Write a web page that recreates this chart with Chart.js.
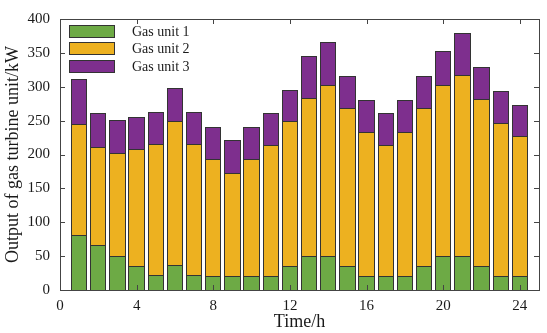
<!DOCTYPE html>
<html>
<head>
<meta charset="utf-8">
<script src="https://cdn.jsdelivr.net/npm/chart.js@4/dist/chart.umd.min.js"></script>
<style>
    html, body { margin: 0; padding: 0; background: #fff; }
    #wrap { width: 547px; height: 333px; }
</style>
</head>
<body>
<div id="wrap"><canvas id="gas-chart" width="547" height="333"></canvas></div>
<script>
// 時刻 (h)
var hours = [1, 2, 3, 4, 5, 6, 7, 8, 9, 10, 11, 12, 13, 14, 15, 16, 17, 18, 19, 20, 21, 22, 23, 24];

// 各ガスタービンの出力 (kW)
var unit1 = [80, 65, 50, 35, 22, 36, 22, 20, 20, 20, 20, 35, 50, 50, 35, 20, 20, 20, 35, 50, 50, 35, 20, 20];
var unit2 = [165, 145, 152, 173, 193, 213, 193, 173, 152, 173, 193, 213, 233, 252, 233, 212, 193, 212, 233, 252, 266, 246, 226, 206];
var unit3 = [65, 50, 48, 47, 47, 48, 47, 47, 48, 47, 47, 47, 62, 63, 47, 48, 47, 48, 47, 50, 62, 47, 47, 47];

var seriesNames = ['Gas unit 1', 'Gas unit 2', 'Gas unit 3'];

// 目盛
var xTicks = [0, 4, 8, 12, 16, 20, 24];
var yTicks = [0, 50, 100, 150, 200, 250, 300, 350, 400];

var Color = {
    bg: ['#6DAA45', '#EDB120', '#7E2F8E'],
    edge: '#333333',
    axis: '#444444',
    text: '#1a1a1a'
};
var fontFamily = '"Liberation Serif", "Times New Roman", serif';

// 棒の輪郭（境界を含むピクセル行・列に細線を引く）
var outlinePlugin = {
    id: 'barOutline',
    afterDatasetsDraw: function(chart) {
        var ctx = chart.ctx;
        ctx.save();
        ctx.strokeStyle = Color.edge;
        ctx.lineWidth = 1;
        chart.data.datasets.forEach(function(ds, di) {
            chart.getDatasetMeta(di).data.forEach(function(bar) {
                var p = bar.getProps(['x', 'y', 'base', 'width'], true);
                var l = Math.floor(p.x - p.width / 2);
                var r = Math.floor(p.x + p.width / 2);
                var t = Math.floor(Math.min(p.y, p.base));
                var b = Math.floor(Math.max(p.y, p.base));
                ctx.strokeRect(l + 0.5, t + 0.5, r - l, b - t);
            });
        });
        ctx.restore();
    }
};

// 枠線と内向きの目盛線
var framePlugin = {
    id: 'frame',
    afterDraw: function(chart) {
        var ctx = chart.ctx;
        var a = chart.chartArea;
        var xs = chart.scales.x;
        var ys = chart.scales.y;
        var len = 5;
        ctx.save();
        ctx.strokeStyle = Color.axis;
        ctx.lineWidth = 1;
        ctx.beginPath();
        xTicks.forEach(function(v) {
            var px = Math.round(xs.getPixelForValue(v)) + 0.5;
            ctx.moveTo(px, a.bottom);
            ctx.lineTo(px, a.bottom - len);
            ctx.moveTo(px, a.top);
            ctx.lineTo(px, a.top + len);
        });
        yTicks.forEach(function(v) {
            var py = Math.round(ys.getPixelForValue(v)) + 0.5;
            ctx.moveTo(a.left, py);
            ctx.lineTo(a.left + len, py);
            ctx.moveTo(a.right, py);
            ctx.lineTo(a.right - len, py);
        });
        ctx.stroke();
        ctx.strokeRect(Math.round(a.left) + 0.5, Math.round(a.top) + 0.5,
            Math.round(a.right - a.left), Math.round(a.bottom - a.top));
        ctx.restore();
    }
};

// 凡例（左上）
var legendPlugin = {
    id: 'boxLegend',
    afterDraw: function(chart) {
        var ctx = chart.ctx;
        var a = chart.chartArea;
        var x0 = a.left + 9;
        var y0 = a.top + 6;
        var step = 17.3;
        ctx.save();
        ctx.font = '14px ' + fontFamily;
        ctx.textBaseline = 'middle';
        chart.data.datasets.forEach(function(ds, i) {
            var y = Math.round(y0 + i * step);
            ctx.fillStyle = ds.backgroundColor;
            ctx.fillRect(x0, y, 46, 13);
            ctx.strokeStyle = Color.edge;
            ctx.lineWidth = 1;
            ctx.strokeRect(x0 + 0.5, y + 0.5, 45, 12);
            ctx.fillStyle = Color.text;
            ctx.fillText(ds.label, x0 + 63, y + 7);
        });
        ctx.restore();
    }
};

var dataSet = [unit1, unit2, unit3].map(function(values, i) {
    return {
        label: seriesNames[i],
        data: values,
        backgroundColor: Color.bg[i],
        borderWidth: 0,
        inflateAmount: 0,
        barPercentage: 0.8,
        categoryPercentage: 1.0
    };
});

new Chart(document.getElementById('gas-chart').getContext('2d'), {
    type: 'bar',
    data: {
        labels: hours,
        datasets: dataSet
    },
    options: {
        responsive: false,
        animation: false,
        layout: { padding: { top: 7, right: 8, left: 0, bottom: 0 } },
        plugins: {
            legend: { display: false },
            tooltip: { enabled: false }
        },
        scales: {
            x: {
                type: 'linear',
                min: 0,
                max: 25,
                stacked: true,
                offset: false,
                grid: { display: false, drawTicks: false },
                border: { display: false },
                afterBuildTicks: function(scale) {
                    scale.ticks = xTicks.map(function(v) { return { value: v }; });
                },
                ticks: {
                    padding: 7,
                    color: Color.text,
                    font: { family: fontFamily, size: 15 }
                },
                title: {
                    display: true,
                    text: 'Time/h',
                    color: Color.text,
                    padding: { top: 0, bottom: 0 },
                    font: { family: fontFamily, size: 18 }
                },
                afterFit: function(scale) { scale.height = 43; }
            },
            y: {
                min: 0,
                max: 400,
                stacked: true,
                grid: { display: false, drawTicks: false },
                border: { display: false },
                afterBuildTicks: function(scale) {
                    scale.ticks = yTicks.map(function(v) { return { value: v }; });
                },
                ticks: {
                    padding: 10,
                    color: Color.text,
                    font: { family: fontFamily, size: 15 }
                },
                title: {
                    display: true,
                    text: 'Output of gas turbine unit/kW',
                    color: Color.text,
                    padding: { top: 2, bottom: 0 },
                    font: { family: fontFamily, size: 18 }
                },
                afterFit: function(scale) { scale.width = 60; }
            }
        }
    },
    plugins: [outlinePlugin, framePlugin, legendPlugin]
});
</script>
</body>
</html>
